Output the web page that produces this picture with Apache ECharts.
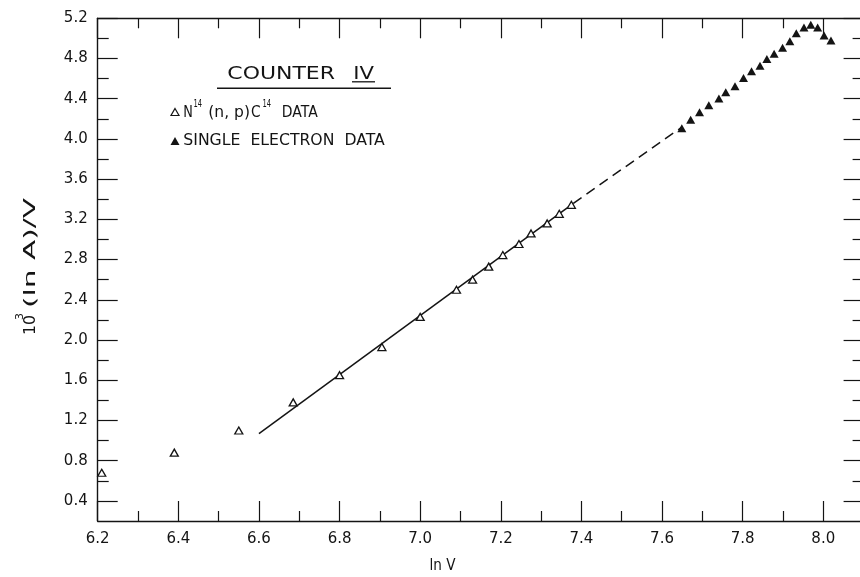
<!DOCTYPE html>
<html>
<head>
<meta charset="utf-8">
<title>Counter IV</title>
<script src="https://cdn.jsdelivr.net/npm/echarts@6/dist/echarts.min.js"></script>
<style>
  html, body { margin: 0; padding: 0; background: #fff; }
  #chart { width: 860px; height: 577px; }
</style>
</head>
<body>
<div id="chart"></div>
<script>
// N14(n,p)C14 calibration points (ln V, 10^3 (ln A)/V)
const nProtonLnV = [6.21, 6.39, 6.55, 6.685, 6.80, 6.905, 7.00, 7.09, 7.13, 7.17, 7.205, 7.245, 7.275, 7.315, 7.345, 7.375];
const nProtonY   = [0.68, 0.88, 1.10, 1.38, 1.65, 1.93, 2.23, 2.50, 2.60, 2.73, 2.845, 2.955, 3.06, 3.16, 3.255, 3.345];

// single electron points
const singleLnV = [7.649, 7.671, 7.693, 7.716, 7.741, 7.758, 7.781, 7.802, 7.822, 7.843, 7.860, 7.878, 7.899, 7.917, 7.933, 7.952, 7.969, 7.986, 8.002, 8.019];
const singleY   = [4.107, 4.190, 4.265, 4.334, 4.402, 4.464, 4.523, 4.606, 4.673, 4.727, 4.794, 4.847, 4.908, 4.971, 5.051, 5.109, 5.135, 5.109, 5.029, 4.979];

// straight-line fit: solid over the calibration range, dashed extrapolation
const fitSolidLnV = [6.60, 7.38];
const fitSolidY   = [1.07, 3.36];
const fitDashLnV  = [7.38, 7.65];
const fitDashY    = [3.36, 4.12];

// axis ticks
const xMajorTicks = [6.2, 6.4, 6.6, 6.8, 7.0, 7.2, 7.4, 7.6, 7.8, 8.0];
const xMinorTicks = [6.3, 6.5, 6.7, 6.9, 7.1, 7.3, 7.5, 7.7, 7.9];
const yMajorTicks = [0.4, 0.8, 1.2, 1.6, 2.0, 2.4, 2.8, 3.2, 3.6, 4.0, 4.4, 4.8, 5.2];
const yMinorTicks = [0.6, 1.0, 1.4, 1.8, 2.2, 2.6, 3.0, 3.4, 3.8, 4.2, 4.6, 5.0];

const INK = '#141414';
const FONT = '"DejaVu Sans", sans-serif';

const zip = (xs, ys) => xs.map((x, i) => [x, ys[i]]);

const measureCtx = document.createElement('canvas').getContext('2d');
function textWidth(str, size) {
  measureCtx.font = size + 'px ' + FONT;
  return measureCtx.measureText(str).width;
}
// left-aligned text stretched horizontally to a given width
function label(str, size, left, cy, width, extra) {
  const el = {
    type: 'text',
    x: left,
    y: cy,
    scaleX: width ? width / textWidth(str, size) : 1,
    style: {
      text: str,
      fontSize: size,
      fontFamily: FONT,
      fill: INK,
      align: 'left',
      verticalAlign: 'middle',
      textAlign: 'left',
      textVerticalAlign: 'middle'
    }
  };
  return Object.assign(el, extra || {});
}

const axisLine = { show: true, lineStyle: { color: INK, width: 1.4 } };
const tickStyle = { color: INK, width: 1.2 };

function xAxisPair(position, withLabels) {
  return [
    {
      type: 'value', position: position, min: 6.2, max: 8.1,
      axisLine: axisLine,
      axisTick: { show: true, inside: true, length: 20, lineStyle: tickStyle, customValues: xMajorTicks },
      axisLabel: withLabels ? {
        show: true, customValues: xMajorTicks, margin: 11,
        fontSize: 15, fontFamily: FONT, color: INK,
        formatter: v => v.toFixed(1)
      } : { show: false },
      splitLine: { show: false }
    },
    {
      type: 'value', position: position, min: 6.2, max: 8.1,
      axisLine: { show: false },
      axisTick: { show: true, inside: true, length: 10, lineStyle: tickStyle, customValues: xMinorTicks },
      axisLabel: { show: false },
      splitLine: { show: false }
    }
  ];
}

function yAxisPair(position, withLabels) {
  return [
    {
      type: 'value', position: position, min: 0.2, max: 5.2,
      axisLine: axisLine,
      axisTick: { show: true, inside: true, length: 20, lineStyle: tickStyle, customValues: yMajorTicks },
      axisLabel: withLabels ? {
        show: true, customValues: yMajorTicks, margin: 10,
        fontSize: 15, fontFamily: FONT, color: INK,
        formatter: v => v.toFixed(1)
      } : { show: false },
      splitLine: { show: false }
    },
    {
      type: 'value', position: position, min: 0.2, max: 5.2,
      axisLine: { show: false },
      axisTick: { show: true, inside: true, length: 11, lineStyle: tickStyle, customValues: yMinorTicks },
      axisLabel: { show: false },
      splitLine: { show: false }
    }
  ];
}

const chart = echarts.init(document.getElementById('chart'), null, { renderer: 'canvas' });

const option = {
  backgroundColor: '#ffffff',
  animation: false,
  grid: { left: 97.7, top: 18.3, width: 765.9, height: 502.7, containLabel: false, outerBoundsMode: 'none' },
  xAxis: [].concat(xAxisPair('bottom', true), xAxisPair('top', false)),
  yAxis: [].concat(yAxisPair('left', true), yAxisPair('right', false)),
  series: [
    {
      name: 'fit', type: 'line', xAxisIndex: 0, yAxisIndex: 0,
      data: zip(fitSolidLnV, fitSolidY), symbol: 'none',
      lineStyle: { color: INK, width: 1.5 }, z: 2
    },
    {
      name: 'extrapolation', type: 'line', xAxisIndex: 0, yAxisIndex: 0,
      data: zip(fitDashLnV, fitDashY), symbol: 'none',
      lineStyle: { color: INK, width: 1.5, type: [10, 6] }, z: 2
    },
    {
      name: 'N14 (n, p) C14 DATA', type: 'scatter', xAxisIndex: 0, yAxisIndex: 0,
      data: zip(nProtonLnV, nProtonY), symbol: 'triangle', symbolSize: [8, 7],
      itemStyle: { color: '#ffffff', borderColor: INK, borderWidth: 1.3, opacity: 1 }, z: 3
    },
    {
      name: 'SINGLE ELECTRON DATA', type: 'scatter', xAxisIndex: 0, yAxisIndex: 0,
      data: zip(singleLnV, singleY), symbol: 'triangle', symbolSize: [9, 8],
      itemStyle: { color: INK, opacity: 1 }, z: 3
    }
  ],
  graphic: [
    // key heading
    label('COUNTER', 17, 227.3, 74.5, 107.7),
    label('IV', 17, 353.3, 74.5, 20.7),
    { type: 'line', shape: { x1: 352, y1: 81.8, x2: 375, y2: 81.8 }, style: { stroke: INK, lineWidth: 1.3 } },
    { type: 'line', shape: { x1: 217, y1: 88.3, x2: 391, y2: 88.3 }, style: { stroke: INK, lineWidth: 1.6 } },

    // key entry: open triangles
    { type: 'polygon', shape: { points: [[175, 108.5], [179, 115.5], [171, 115.5]] }, style: { fill: '#fff', stroke: INK, lineWidth: 1.2 } },
    label('N', 15, 183.3, 113.3, 9.6),
    label('14', 11, 193.5, 104, 8.6),
    label('(n, p)', 15, 208.3, 113.3, 41.7),
    label('C', 15, 251, 113.3, 9.6),
    label('14', 11, 262.5, 104, 8.6),
    label('DATA', 15, 281.7, 113.3, 36),

    // key entry: filled triangles
    { type: 'polygon', shape: { points: [[175, 137], [179.5, 145], [170.5, 145]] }, style: { fill: INK } },
    label('SINGLE  ELECTRON  DATA', 15, 183.3, 141.3, 201.5),

    // axis titles
    label('ln V', 15, 429.5, 566, 26),
    {
      type: 'group', x: 31, y: 335, rotation: Math.PI / 2,
      children: [
        label('10', 16, 0, 0, 20),
        label('3', 11, 15, -11, 7),
        label('(ln A)/V', 16, 27, 0, 110)
      ]
    }
  ]
};

chart.setOption(option);
</script>
</body>
</html>
